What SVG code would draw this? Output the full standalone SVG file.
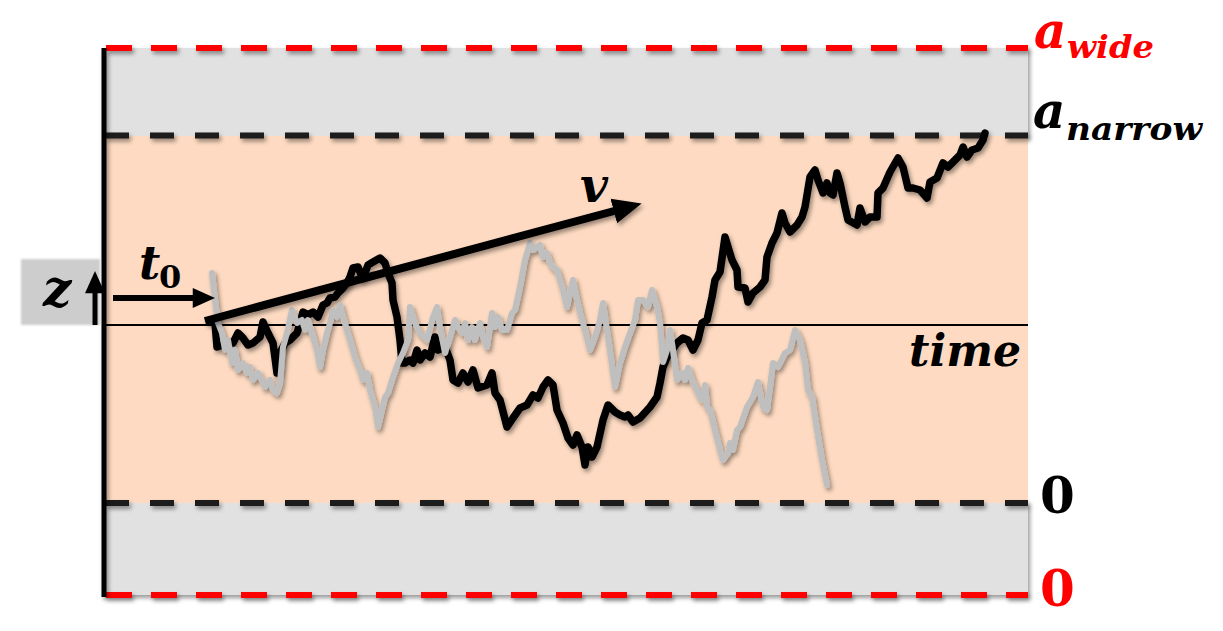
<svg xmlns="http://www.w3.org/2000/svg" width="1223" height="631" viewBox="0 0 1223 631">
<style>
.band{fill:#e1e1e1}
.peach{fill:#fddac1}
.dashR{stroke:#ff0000;stroke-width:6;stroke-dasharray:26 19;fill:none}
.dashK{stroke:#1c1c1c;stroke-width:6;stroke-dasharray:24 21;fill:none}
.lbl{font-family:"DejaVu Serif","Liberation Serif",serif;font-weight:bold;font-style:italic}
.num{font-family:"DejaVu Serif","Liberation Serif",serif;font-weight:bold}
.walkK{fill:none;stroke:#000;stroke-width:7.5;stroke-linejoin:round;stroke-linecap:round}
.walkG{fill:none;stroke:#bfbfbf;stroke-width:6;stroke-linejoin:round;stroke-linecap:round}
</style>
<defs>
<filter id="sh" filterUnits="userSpaceOnUse" x="0" y="0" width="1223" height="631">
<feDropShadow dx="2" dy="3" stdDeviation="2" flood-color="#000" flood-opacity="0.4"/>
</filter>
<filter id="soft" x="-10%" y="-10%" width="120%" height="120%">
<feGaussianBlur stdDeviation="1.2"/>
</filter>
<marker id="ahV" markerUnits="userSpaceOnUse" markerWidth="30" markerHeight="30" refX="2" refY="11" orient="auto" viewBox="0 0 26 22">
<path d="M0,0 L25,11 L0,22 z" fill="#000"/>
</marker>
<marker id="ahT" markerUnits="userSpaceOnUse" markerWidth="24" markerHeight="20" refX="2" refY="9" orient="auto" viewBox="0 0 20 18">
<path d="M0,0 L20,9 L0,18 z" fill="#000"/>
</marker>
<marker id="ahZ" markerUnits="userSpaceOnUse" markerWidth="24" markerHeight="20" refX="2" refY="9" orient="auto" viewBox="0 0 20 18">
<path d="M0,0 L20,9 L0,18 z" fill="#000"/>
</marker>
</defs>

<g id="background">
<rect class="band" x="105" y="48" width="923" height="88" filter="url(#sh)"/>
<rect class="band" x="105" y="503" width="923" height="92" filter="url(#sh)"/>
<rect class="peach" x="105" y="136" width="923" height="367"/>
</g>

<g id="boundaries" filter="url(#sh)">
<line class="dashR" x1="106" y1="48" x2="1028" y2="48"/>
<line class="dashK" x1="105" y1="135.5" x2="1028" y2="135.5"/>
<line class="dashK" x1="105" y1="503" x2="1028" y2="503"/>
<line class="dashR" x1="106" y1="595" x2="1028" y2="595"/>
</g>

<g id="axes">
<line x1="104" y1="48" x2="104" y2="597" stroke="#000" stroke-width="5" filter="url(#sh)"/>
<line x1="104" y1="325" x2="1028" y2="325" stroke="#000" stroke-width="2"/>
</g>

<g id="z-label">
<rect x="21" y="259" width="79" height="66" fill="#cdcdcd" filter="url(#soft)"/>
<text class="lbl" x="43" y="306" font-size="50">z</text>
</g>

<g id="walk-black" filter="url(#sh)">
<path class="walkK" d="M213,322 L215,323 L217,347 L223,345 L228,342 L233,343 L238,333 L243,338 L248,345 L253,343 L260,337 L263,322 L268,333 L273,343 L277,373 L280,353 L285,343 L290,340 L297,333 L300,323 L303,312 L308,315 L313,312 L318,317 L323,305 L327,303 L330,298 L335,297 L338,293 L343,288 L347,283 L350,277 L353,268 L358,267 L362,277 L365,273 L368,265 L373,262 L380,258 L385,263 L388,273 L392,283 L393,300 L397,317 L400,340 L402,363 L405,363 L410,360 L413,363 L417,350 L420,360 L425,353 L430,357 L435,337 L438,350 L445,347 L450,360 L453,380 L458,383 L463,373 L468,382 L473,370 L478,388 L487,385 L492,373 L495,393 L500,400 L507,427 L513,418 L520,408 L527,405 L533,395 L538,398 L543,387 L548,380 L553,385 L557,410 L563,423 L568,438 L573,445 L577,435 L582,447 L585,465 L588,447 L592,457 L597,447 L603,420 L608,405 L615,412 L620,415 L625,417 L628,415 L633,422 L640,418 L650,407 L657,397 L660,383 L663,367 L667,357 L672,350 L677,343 L683,338 L688,340 L693,350 L698,340 L702,323 L707,320 L712,297 L715,280 L720,272 L725,237 L732,260 L737,270 L738,287 L745,288 L748,302 L753,293 L760,287 L765,280 L767,257 L772,243 L777,233 L782,213 L785,223 L790,232 L797,225 L802,217 L805,207 L810,177 L815,170 L818,180 L823,193 L827,183 L830,193 L833,195 L837,173 L840,183 L845,207 L848,220 L857,225 L860,208 L865,222 L870,217 L877,217 L878,193 L883,188 L890,172 L898,158 L903,167 L908,188 L913,188 L920,190 L927,198 L930,182 L937,178 L943,163 L948,167 L955,160 L960,155 L963,147 L967,157 L972,150 L978,148 L983,140 L985,133"/>
</g>

<g id="walk-gray" filter="url(#sh)">
<path class="walkG" d="M212,273 L215,300 L218,323 L222,333 L225,350 L228,340 L232,363 L235,350 L238,370 L243,363 L247,373 L250,367 L253,380 L258,373 L262,380 L265,387 L270,380 L273,390 L277,393 L280,383 L283,347 L287,333 L292,310 L297,323 L302,320 L305,330 L308,320 L312,333 L317,350 L320,367 L323,350 L327,333 L330,323 L333,310 L337,317 L340,305 L343,317 L347,330 L350,340 L355,357 L360,370 L363,380 L367,373 L370,390 L375,407 L378,427 L382,410 L385,397 L388,393 L393,377 L398,363 L403,353 L408,340 L410,307 L415,323 L420,333 L427,340 L433,317 L437,307 L440,327 L445,353 L450,337 L455,320 L458,327 L462,333 L465,323 L468,340 L472,327 L475,340 L480,323 L483,337 L487,347 L492,313 L495,327 L498,317 L502,330 L507,330 L512,313 L515,310 L520,287 L525,260 L530,243 L533,250 L537,247 L540,245 L543,257 L547,253 L550,263 L553,267 L557,270 L560,280 L563,290 L567,307 L570,293 L573,280 L577,300 L580,313 L585,330 L590,350 L595,337 L600,320 L603,303 L608,337 L615,387 L620,363 L625,347 L630,333 L635,320 L638,300 L643,300 L648,307 L652,290 L657,307 L660,323 L663,362 L668,347 L670,330 L673,350 L677,380 L682,373 L685,380 L688,368 L692,380 L698,393 L702,400 L705,385 L707,407 L710,410 L715,430 L720,450 L723,460 L728,453 L730,443 L733,450 L737,430 L740,427 L747,407 L753,397 L758,382 L763,407 L767,410 L770,387 L773,363 L778,367 L785,353 L790,350 L795,330 L800,340 L805,363 L808,390 L812,397 L817,430 L822,460 L827,485"/>
</g>

<g id="connectors">
<line x1="205" y1="321" x2="616" y2="210.5" stroke="#000" stroke-width="8" marker-end="url(#ahV)" filter="url(#sh)"/>
<line x1="113" y1="298" x2="195" y2="298" stroke="#000" stroke-width="6" marker-end="url(#ahT)"/>
<line x1="95" y1="325" x2="95" y2="291" stroke="#000" stroke-width="5" marker-end="url(#ahZ)"/>
</g>

<g id="labels">
<text class="lbl" x="139" y="279" font-size="46">t</text>
<text class="num" x="159" y="288" font-size="32">0</text>
<text class="lbl" x="580" y="202" font-size="48">v</text>
<text class="lbl" x="909" y="366" font-size="44" textLength="112" lengthAdjust="spacingAndGlyphs">time</text>
<text class="lbl" x="1034" y="48" font-size="50" fill="#ff0000">a</text>
<text class="lbl" x="1067" y="58" font-size="31" fill="#ff0000" textLength="87" lengthAdjust="spacingAndGlyphs">wide</text>
<text class="lbl" x="1033" y="128" font-size="50">a</text>
<text class="lbl" x="1066" y="140" font-size="31" textLength="136" lengthAdjust="spacingAndGlyphs">narrow</text>
<text class="num" x="1040" y="513" font-size="50">0</text>
<text class="num" x="1040" y="606" font-size="50" fill="#ff0000">0</text>
</g>
</svg>
